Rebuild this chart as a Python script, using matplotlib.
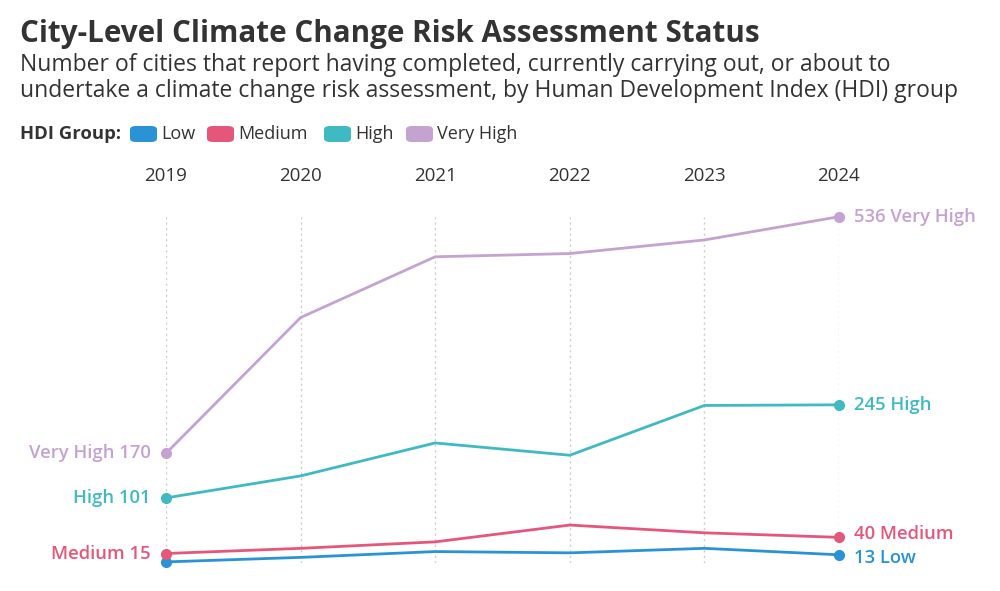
import matplotlib.pyplot as plt
from matplotlib.patches import FancyBboxPatch

# Data
years = [2019, 2020, 2021, 2022, 2023, 2024]
groups = ['Low', 'Medium', 'High', 'Very High']
low = [2, 9, 18, 16, 23, 13]
medium = [15, 23, 33, 59, 47, 40]
high = [101, 135, 186, 167, 244, 245]
very_high = [170, 380, 474, 479, 500, 536]
series = [low, medium, high, very_high]
colors = ['#2a93d5', '#e5577a', '#3fbac2', '#c5a3d0']

W, H = 1000, 591
TXT = '#333333'
FONT = 'Open Sans'


def fy(py):
    # pixel row from top -> figure fraction
    return 1 - py / H


fig = plt.figure(figsize=(W / 100, H / 100), dpi=100)
ax = fig.add_axes([166 / W, fy(563.2), (839 - 166) / W, (563.2 - 216.7) / H])
ax.set_xlim(2019, 2024)
ax.set_ylim(0, 536)
ax.axis('off')

# dotted vertical grid lines
ax.vlines(years, 0, 536, colors='#cccccc', linestyles=(0, (1.5, 2.5)), linewidth=1, zorder=1)

for vals, col in zip(series, colors):
    ax.plot(years, vals, color=col, linewidth=2, zorder=3, clip_on=False, solid_capstyle='round')
    ax.plot([years[0], years[-1]], [vals[0], vals[-1]], 'o', color=col, markersize=7,
            zorder=4, clip_on=False)

# end labels (small vertical nudges so the two bottom labels don't collide)
nudge = {'Low': -2.5, 'Medium': 2.5, 'High': 0, 'Very High': 0}
for name, vals, col in zip(groups, series, colors):
    ax.annotate(f'{vals[-1]} {name}', (years[-1], vals[-1]), xytext=(11, nudge[name]),
                textcoords='offset points', ha='left', va='center', color=col,
                fontsize=13.3, fontweight='semibold', family=FONT, annotation_clip=False)
    if name != 'Low':
        ax.annotate(f'{name} {vals[0]}', (years[0], vals[0]), xytext=(-11, 0),
                    textcoords='offset points', ha='right', va='center', color=col,
                    fontsize=13.3, fontweight='semibold', family=FONT, annotation_clip=False)

# year labels on top
for yr in years:
    fig.text((166 + (yr - 2019) * (839 - 166) / 5) / W, fy(176), str(yr), ha='center',
             va='center', fontsize=13.5, color=TXT, family=FONT)

fig.text(20 / W, fy(42), 'City-Level Climate Change Risk Assessment Status', fontsize=21.3,
         fontweight='bold', color=TXT, family=FONT, va='baseline')
fig.text(20 / W, fy(71), 'Number of cities that report having completed, currently carrying out, or about to',
         fontsize=16.5, color=TXT, family=FONT, va='baseline')
fig.text(20 / W, fy(97), 'undertake a climate change risk assessment, by Human Development Index (HDI) group',
         fontsize=16.5, color=TXT, family=FONT, va='baseline')

# legend
fig.text(20 / W, fy(134), 'HDI Group:', fontsize=13.3, fontweight='bold', color=TXT,
         family=FONT, va='center')
leg_x = [130, 207, 324, 406]
for x0, name, col in zip(leg_x, groups, colors):
    patch = FancyBboxPatch((x0 / W, fy(142)), 27 / W, 16 / H,
                           boxstyle='round,pad=0,rounding_size=0.006',
                           transform=fig.transFigure, facecolor=col, edgecolor='none')
    fig.patches.append(patch)
    fig.text((x0 + 31) / W, fy(134), name, fontsize=13, color=TXT, family=FONT, va='center')

fig.savefig('out.png', dpi=100, facecolor='white')
